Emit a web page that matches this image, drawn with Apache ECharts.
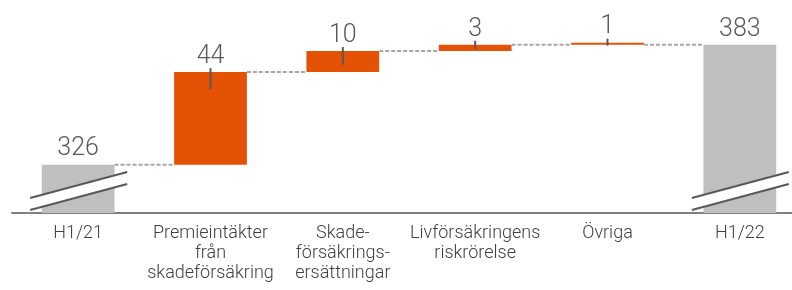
<!DOCTYPE html>
<html lang="sv">
<head>
    <meta charset="UTF-8">
    <title>Resultatbrygga H1/21 - H1/22</title>
    <script src="https://cdn.jsdelivr.net/npm/echarts@6/dist/echarts.min.js"></script>
    <style type="text/css">
        html, body { margin: 0; padding: 0; background: #fff; }
        #chart { width: 792px; height: 290px; }
    </style>
</head>
<body>
<div id="chart"></div>
<script>
    // data
    var categories = ['H1/21', 'Premieintäkter\nfrån\nskadeförsäkring', 'Skade-\nförsäkrings-\nersättningar',
        'Livförsäkringens\nriskrörelse', 'Övriga', 'H1/22'];
    var values = [326, 44, 10, 3, 1, 383];
    var isTotal = [true, false, false, false, false, true];
    var yMin = 303;   // broken axis, bars start here
    var yMax = 400;

    var font = 'Roboto, "Noto Sans", sans-serif';
    var orange = '#E35205';
    var grey = '#BFBFBF';
    var dark = '#595959';

    // build base/top for every bar
    var rows = [];
    var run = 0;
    for (var i = 0; i < values.length; i++) {
        if (isTotal[i]) {
            rows.push([i, yMin, values[i], values[i], 1]);
            run = values[i];
        } else {
            rows.push([i, run, run + values[i], values[i], 0]);
            run = run + values[i];
        }
    }

    function renderItem(params, api) {
        var idx = api.value(0);
        var base = api.value(1);
        var top = api.value(2);
        var total = api.value(4) === 1;
        var p0 = api.coord([idx, base]);
        var p1 = api.coord([idx, top]);
        var w = api.size([1, 0])[0] * 0.55;
        var cx = p0[0];
        var h = p0[1] - p1[1];
        var kids = [];

        kids.push({
            type: 'rect',
            shape: {x: cx - w / 2, y: p1[1], width: w, height: Math.max(h, 2)},
            style: {fill: total ? grey : orange}
        });

        // dashed connector to next bar
        if (idx < rows.length - 1) {
            var next = rows[idx + 1];
            var level = next[4] === 1 ? next[2] : next[1];
            var ly = api.coord([idx, level])[1];
            var nx = api.coord([idx + 1, level])[0];
            kids.push({
                type: 'line',
                shape: {x1: cx + w / 2, y1: ly, x2: nx - w / 2, y2: ly},
                style: {stroke: '#A6A6A6', lineWidth: 2, lineDash: [4, 2]}
            });
        }

        if (!total) {
            // small tick on the delta bars
            var down = Math.min(17, Math.max(3, h * 0.65));
            kids.push({
                type: 'line',
                shape: {x1: cx, y1: p1[1] - 4, x2: cx, y2: p1[1] + down},
                style: {stroke: dark, lineWidth: 2}
            });
        } else {
            // break marks
            var ay = p0[1];
            kids.push({
                type: 'polygon',
                shape: {points: [[cx - 48, ay - 15], [cx + 49, ay - 41], [cx + 49, ay - 29], [cx - 48, ay - 3]]},
                style: {fill: '#fff'}
            });
            kids.push({
                type: 'line',
                shape: {x1: cx - 48, y1: ay - 15, x2: cx + 49, y2: ay - 41},
                style: {stroke: dark, lineWidth: 2}
            });
            kids.push({
                type: 'line',
                shape: {x1: cx - 48, y1: ay - 3, x2: cx + 49, y2: ay - 29},
                style: {stroke: dark, lineWidth: 2}
            });
        }

        kids.push({
            type: 'text',
            style: {
                text: String(api.value(3)),
                x: cx, y: p1[1] - 3,
                align: 'center', verticalAlign: 'bottom',
                fill: dark, font: '300 25px ' + font
            }
        });

        return {type: 'group', children: kids};
    }

    var myChart = echarts.init(document.getElementById('chart'));
    myChart.setOption({
        animation: false,
        grid: {left: 12, right: -14, top: 9, bottom: 77, outerBoundsMode: 'none', containLabel: false},
        xAxis: {
            type: 'category',
            data: categories,
            axisLine: {lineStyle: {color: '#808080', width: 2}},
            axisTick: {show: false},
            axisLabel: {
                interval: 0, margin: 10,
                color: '#404040', fontSize: 18, lineHeight: 20,
                fontFamily: font, fontWeight: 300
            }
        },
        yAxis: {type: 'value', min: yMin, max: yMax, show: false},
        series: [{
            type: 'custom',
            renderItem: renderItem,
            clip: false,
            encode: {x: 0, y: [1, 2]},
            data: rows
        }]
    });
</script>
</body>
</html>
